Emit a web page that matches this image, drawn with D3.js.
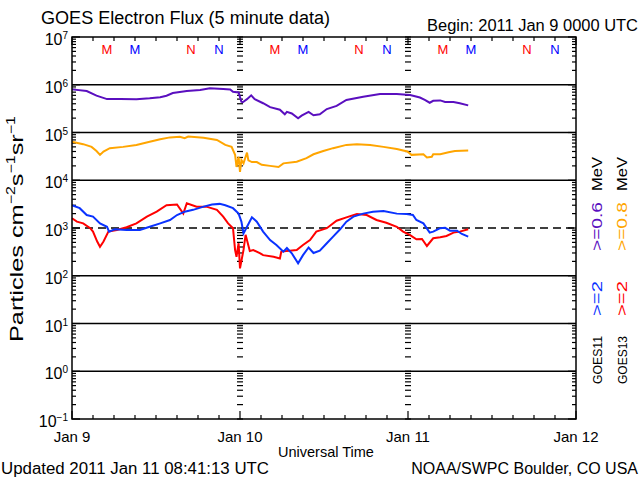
<!DOCTYPE html>
<html><head><meta charset="utf-8">
<script src="https://cdn.jsdelivr.net/npm/d3@7"></script>
<style>body{margin:0;background:#fff}svg{display:block}text{font-family:"Liberation Sans",Arial,sans-serif;fill:#000}</style>
</head><body><svg id="c" width="640" height="480"></svg>
<script>
// ---- data (hours after 2011 Jan 9 00:00 UTC, flux in particles cm^-2 s^-1 sr^-1) ----
const g11LowHours = [0,2.1,3.5,5,6.9,9.2,11.1,12.6,13.5,14.4,16.4,18.3,19.7,21.6,22.6,23,23.8,24.2,24.4,25,25.6,26.1,27.3,28.3,29.7,30.4,30.7,31.4,32.3,32.8,33.8,34.5,35.4,36.4,37.8,39.2,41.6,44,46.4,48.3,49.7,50.4,51.1,51.6,52.6,53.3,54.5,55.4,56.6];
const g11LowFlux  = [8.0e5,7.4e5,5.9e5,5.0e5,5.0e5,4.95e5,5.2e5,5.5e5,5.9e5,6.7e5,7.4e5,7.8e5,8.4e5,8.1e5,8.0e5,7.1e5,6.9e5,4.4e5,4.3e5,5.0e5,6.0e5,5.0e5,4.1e5,3.4e5,3.0e5,2.4e5,2.7e5,2.5e5,1.98e5,2.25e5,2.7e5,2.3e5,2.4e5,3.1e5,3.6e5,4.8e5,5.6e5,6.4e5,6.4e5,6.1e5,5.4e5,4.8e5,4.2e5,4.6e5,4.7e5,4.35e5,4.35e5,4.1e5,3.7e5];
const g13LowHours = [0,1.6,2.8,3.5,4,4.5,5.4,7.3,9.2,11.1,12.6,14,15.4,16.1,16.6,18.8,20.7,21.9,22.8,23.3,23.5,23.8,24,24.2,24.5,25,25.2,25.7,26.4,27.1,28.3,29.5,30.2,32.1,33.5,34.5,35.9,37.3,39.2,40.7,42.6,44.5,46.4,47.9,48.5,50.2,50.7,51.4,51.6,52.6,53.8,54.7,56.6];
const g13LowFlux  = [6.4e4,5.7e4,5.0e4,4.1e4,3.4e4,4.0e4,4.7e4,5.0e4,5.5e4,6.4e4,7.2e4,7.9e4,8.1e4,7.6e4,8.2e4,7.8e4,7.0e4,5.5e4,5.0e4,3.4e4,1.9e4,3.1e4,1.5e4,2.65e4,2.26e4,3.8e4,2.6e4,2.4e4,2.4e4,2.1e4,2.0e4,1.9e4,2.26e4,2.45e4,2.9e4,3.5e4,4.1e4,4.7e4,5.5e4,5.7e4,5.5e4,5.0e4,4.5e4,4.0e4,3.4e4,3.5e4,3.0e4,3.1e4,3.5e4,3.5e4,3.85e4,4.1e4,4.2e4];
const g11HighHours = [0,1.1,2.1,3,4,5,5.3,6.1,7.8,9.7,11.1,12.6,14,15,16.1,17.3,18.8,20,21.1,21.9,23,23.8,24.2,24.5,25,25.7,26.4,27.3,28.3,29.2,30.2,30.7,31.4,32.3,33,33.8,34.5,35.4,36.4,37.3,38.3,39.2,40.2,41.6,43,44.5,46.4,47.8,48.7,49.2,50.2,51.1,51.6,52.6,53.3,54,55,55.7,56.6];
const g11HighFlux  = [3.0e3,2.6e3,1.87e3,1.73e3,1.25e3,1.06e3,8.4e2,9.4e2,9.1e2,9.1e2,1.06e3,1.25e3,1.47e3,1.87e3,2.2e3,2.4e3,2.8e3,3.1e3,3.2e3,3.0e3,2.6e3,2.0e3,1.36e3,7.7e2,1.06e3,1.67e3,1.36e3,8.4e2,5.6e2,4.4e2,3.2e2,3.8e2,2.95e2,1.82e2,2.7e2,3.9e2,3.0e2,3.35e2,4.8e2,6.6e2,9.4e2,1.36e3,1.73e3,2.0e3,2.2e3,2.27e3,2.0e3,1.96e3,1.87e3,1.47e3,1.25e3,8.0e2,8.4e2,9.9e2,1.01e3,8.8e2,8.8e2,7.5e2,6.6e2];
const g13HighHours = [0,0.7,1.6,2.6,3,3.6,4,4.5,5.2,6.4,7.8,9.2,10.7,12.1,13.5,15,15.9,16.4,17.8,19.2,20.7,21.6,22.3,23,23.3,23.5,23.8,24,24.5,24.8,25.4,25.9,26.9,27.3,28.8,29.7,29.9,32.1,33,34,34.9,36.4,37.8,39.2,40.7,42.1,43.5,44.9,46.4,47.3,48.3,49.2,50,50.7,51.6,52.6,53.5,54.5,55.4,56.6];
const g13HighFlux  = [1.6e3,1.36e3,1.25e3,9.9e2,8.4e2,5.2e2,4.05e2,5.2e2,8.4e2,9.1e2,1.04e3,1.25e3,1.73e3,2.2e3,3.0e3,3.1e3,2.0e3,3.3e3,2.8e3,2.8e3,2.4e3,1.73e3,1.25e3,9.9e2,3.46e2,2.5e2,4.8e2,1.43e2,3.46e2,7.2e2,3.3e2,3.46e2,2.95e2,2.7e2,2.5e2,2.3e2,3.2e2,3.46e2,4.4e2,5.6e2,8.4e2,9.9e2,1.42e3,1.67e3,1.96e3,1.87e3,1.47e3,1.29e3,1.06e3,8.4e2,7.1e2,5.8e2,5.9e2,4.2e2,6.1e2,6.4e2,6.8e2,8.0e2,8.4e2,9.4e2];

const decadeExponents = [7,6,5,4,3,2,1,0,-1];
const dayLabels = ["Jan 9","Jan 10","Jan 11","Jan 12"];
const markerLetters = ["M","M","N","N"];
const markerHours = [5,9,17,21];
const markerColors = ["#ff0000","#0000ff","#ff0000","#0000ff"];

// ---- layout ----
const svg = d3.select("#c");
const L=72, R=576, T=37, B=419;
const t0 = Date.UTC(2011,0,9);
const x = d3.scaleUtc().domain([new Date(t0), new Date(Date.UTC(2011,0,12))]).range([L,R]);
const y = d3.scaleLog().domain([1e-1,1e7]).range([B,T]);
const hr = h => new Date(t0 + h*3600e3);

[6,5,4,2,1,0].forEach(e=>{
  svg.append("line").attr("x1",L).attr("x2",R).attr("y1",y(Math.pow(10,e))).attr("y2",y(Math.pow(10,e)))
    .attr("stroke","#000").attr("stroke-width",1.5);
});
svg.append("line").attr("x1",L).attr("x2",R).attr("y1",y(1e3)).attr("y2",y(1e3))
  .attr("stroke","#000").attr("stroke-width",1.5).attr("stroke-dasharray","8,5");

const minorVals=[], majorVals=[];
for(let e=-1;e<7;e++){ for(let m=2;m<=9;m++) minorVals.push(m*Math.pow(10,e)); }
decadeExponents.forEach(e=>majorVals.push(Math.pow(10,e)));
const tg = svg.append("g").attr("stroke","#000").attr("stroke-width",1.2);
minorVals.forEach(v=>{
  const yy=y(v);
  tg.append("line").attr("x1",L).attr("x2",L+4).attr("y1",yy).attr("y2",yy);
  tg.append("line").attr("x1",R).attr("x2",R-4).attr("y1",yy).attr("y2",yy);
});
majorVals.forEach(v=>{
  const yy=y(v);
  tg.append("line").attr("x1",L).attr("x2",L+8).attr("y1",yy).attr("y2",yy);
  tg.append("line").attr("x1",R).attr("x2",R-8).attr("y1",yy).attr("y2",yy);
});
[1,2].forEach(d=>{
  const xx = x(hr(24*d));
  minorVals.concat(majorVals).forEach(v=>{
    const yy=y(v);
    tg.append("line").attr("x1",xx-3).attr("x2",xx+3).attr("y1",yy).attr("y2",yy);
  });
});
const tticks = x.ticks(d3.utcHour.every(3));
tticks.forEach(t=>{
  const xx=x(t); const isDay = t.getUTCHours()===0;
  const len = isDay?8:4;
  tg.append("line").attr("x1",xx).attr("x2",xx).attr("y1",T).attr("y2",T+len);
  tg.append("line").attr("x1",xx).attr("x2",xx).attr("y1",B).attr("y2",B-len);
});

const line = d3.line().x(d=>x(hr(d[0]))).y(d=>y(d[1]));
const series = [
  [g11LowHours,g11LowFlux,"#5a0fbf"],
  [g13LowHours,g13LowFlux,"#ffa500"],
  [g13HighHours,g13HighFlux,"#ff0000"],
  [g11HighHours,g11HighFlux,"#0a32ff"]
];
series.forEach(([h,f,c])=>{
  svg.append("path").datum(h.map((v,i)=>[v,f[i]])).attr("d",line)
    .attr("fill","none").attr("stroke",c).attr("stroke-width",2);
});

svg.append("rect").attr("x",L).attr("y",T).attr("width",R-L).attr("height",B-T)
  .attr("fill","none").attr("stroke","#000").attr("stroke-width",1.5);

[0,1,2].forEach(d=>{
  markerLetters.forEach((m,i)=>{
    svg.append("text").attr("x",x(hr(24*d+markerHours[i]))).attr("y",54)
      .attr("text-anchor","middle").attr("font-size",13).style("fill",markerColors[i]).text(m);
  });
});

decadeExponents.forEach(e=>{
  const t = svg.append("text").attr("x",68).attr("y",y(Math.pow(10,e))+8)
    .attr("text-anchor","end").attr("font-size",16);
  t.append("tspan").text("10");
  t.append("tspan").attr("dy",-6).attr("font-size",10).text(e<0?"\u2212"+(-e):String(e));
});

dayLabels.forEach((s,i)=>{
  svg.append("text").attr("x",x(hr(24*i))).attr("y",442).attr("text-anchor","middle")
    .attr("font-size",15).text(s);
});
svg.append("text").attr("x",326).attr("y",457).attr("text-anchor","middle").attr("font-size",14.5).text("Universal Time");

svg.append("text").attr("x",41).attr("y",24).attr("font-size",18).attr("textLength",289).attr("lengthAdjust","spacingAndGlyphs").text("GOES Electron Flux (5 minute data)");
svg.append("text").attr("x",427).attr("y",31).attr("font-size",16).attr("textLength",211).attr("lengthAdjust","spacingAndGlyphs").text("Begin: 2011 Jan 9 0000 UTC");
svg.append("text").attr("x",1).attr("y",474).attr("font-size",16).attr("textLength",268).attr("lengthAdjust","spacingAndGlyphs").text("Updated 2011 Jan 11 08:41:13 UTC");
svg.append("text").attr("x",638).attr("y",474).attr("text-anchor","end").attr("font-size",16).text("NOAA/SWPC Boulder, CO USA");

const yt = svg.append("text").attr("transform","translate(23,229) rotate(-90)").attr("text-anchor","middle")
  .attr("font-size",19).attr("textLength",226).attr("lengthAdjust","spacingAndGlyphs");
yt.append("tspan").text("Particles cm");
yt.append("tspan").attr("dy",-8).attr("font-size",12).text("\u22122");
yt.append("tspan").attr("dy",8).text("s");
yt.append("tspan").attr("dy",-8).attr("font-size",12).text("\u22121");
yt.append("tspan").attr("dy",8).text("sr");
yt.append("tspan").attr("dy",-8).attr("font-size",12).text("\u22121");

const legendCols = [
  {x:602, parts:[["GOES11","#000"],[">=2","#0a32ff"],[">=0.6","#5a0fbf"],["MeV","#000"]]},
  {x:627, parts:[["GOES13","#000"],[">=2","#ff0000"],[">=0.8","#ffa500"],["MeV","#000"]]}
];
const partStart = [384,316,251,191];
const partLen = [48,35,49,34];
const partSize = [13,15,15,15];
legendCols.forEach(col=>{
  col.parts.forEach((p,i)=>{
    svg.append("text").attr("transform",`translate(${col.x},${partStart[i]}) rotate(-90)`)
      .attr("font-size",partSize[i]).attr("textLength",partLen[i]).attr("lengthAdjust","spacingAndGlyphs")
      .style("fill",p[1]).text(p[0]);
  });
});
</script></body></html>
